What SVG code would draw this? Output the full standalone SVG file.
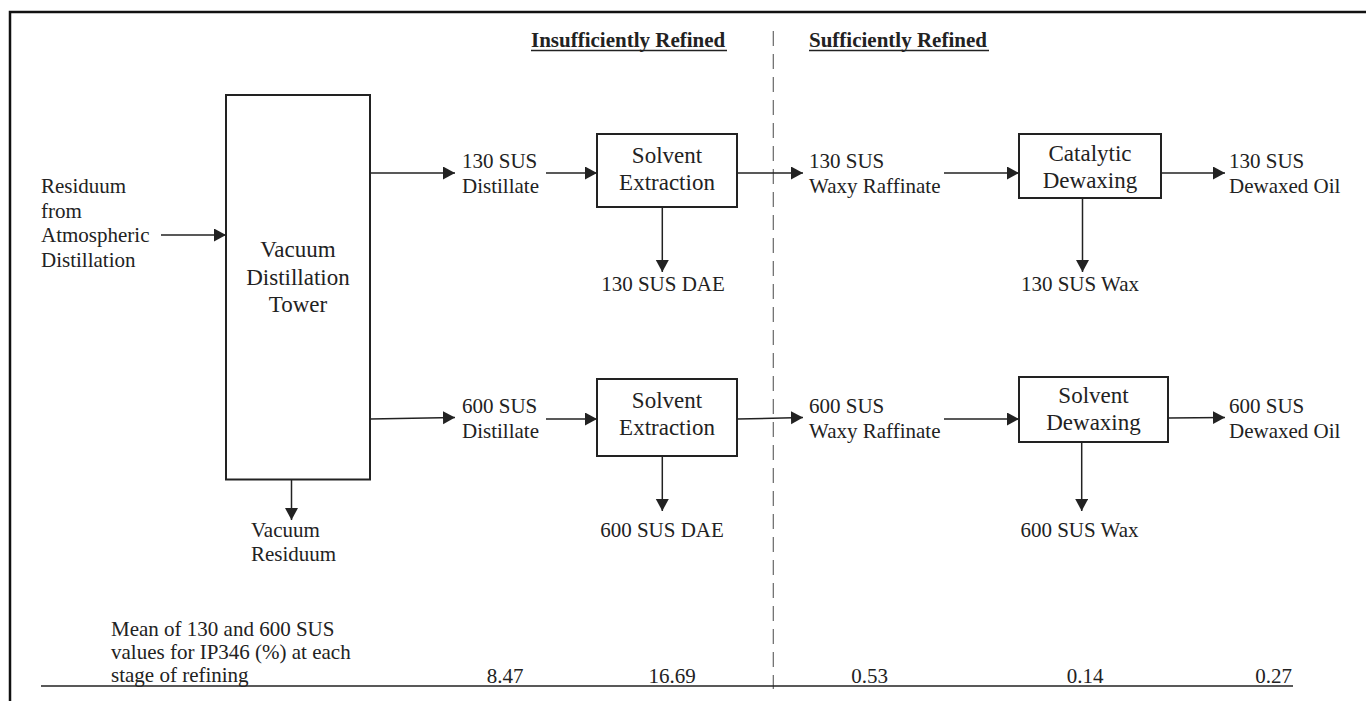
<svg xmlns="http://www.w3.org/2000/svg" width="1366" height="701" viewBox="0 0 1366 701">
  <defs>
    <marker id="arrow" markerUnits="userSpaceOnUse" markerWidth="13" markerHeight="14" refX="12" refY="6.5" orient="auto">
      <path d="M0,0 L12,6.5 L0,13 z" fill="#222"/>
    </marker>
    <style>
      .t { font-family: "Liberation Serif", "Times New Roman", serif; font-size: 21px; fill: #222; }
      .box-t { font-family: "Liberation Serif", "Times New Roman", serif; font-size: 23px; fill: #222; text-anchor: middle; }
      .hdr { font-family: "Liberation Serif", "Times New Roman", serif; font-size: 21px; font-weight: bold; fill: #222; }
      .box { fill: #fff; stroke: #222; stroke-width: 2; }
      .flow { stroke: #222; stroke-width: 1.5; fill: none; marker-end: url(#arrow); }
      .rule { stroke: #222; stroke-width: 1.5; fill: none; }
      .mid { text-anchor: middle; }
    </style>
  </defs>

  <rect width="1366" height="701" fill="#fff"/>

  <!-- frame (top and left edges) -->
  <path d="M10,701 V12 H1366" fill="none" stroke="#111" stroke-width="2.5"/>

  <!-- section headings -->
  <g id="headings">
    <text class="hdr" x="531" y="47">Insufficiently Refined</text>
    <line x1="531" y1="50.5" x2="727" y2="50.5" stroke="#222" stroke-width="1.6"/>
    <text class="hdr" x="809" y="47">Sufficiently Refined</text>
    <line x1="809" y1="50.5" x2="989" y2="50.5" stroke="#222" stroke-width="1.6"/>
  </g>

  <!-- boundary between refining grades -->
  <line id="divider" x1="773.3" y1="31" x2="773.3" y2="689" stroke="#666" stroke-width="1.2" stroke-dasharray="15 8"/>

  <!-- connectors -->
  <g id="connectors">
    <line class="flow" x1="161" y1="235" x2="226" y2="235"/>
    <line class="flow" x1="370" y1="173" x2="455" y2="173"/>
    <line class="flow" x1="370" y1="419" x2="455" y2="417.5"/>
    <line class="flow" x1="291.5" y1="480" x2="291.5" y2="520"/>
    <line class="flow" x1="546" y1="173" x2="597" y2="173"/>
    <line class="flow" x1="546" y1="419" x2="597" y2="419"/>
    <line class="flow" x1="737" y1="173" x2="803" y2="173"/>
    <line class="flow" x1="737" y1="419" x2="803" y2="417.5"/>
    <line class="flow" x1="662.3" y1="207" x2="662.3" y2="272"/>
    <line class="flow" x1="662.3" y1="456" x2="662.3" y2="511"/>
    <line class="flow" x1="944" y1="173" x2="1019" y2="173"/>
    <line class="flow" x1="944" y1="419" x2="1019" y2="419"/>
    <line class="flow" x1="1161" y1="173" x2="1225" y2="173"/>
    <line class="flow" x1="1168" y1="418" x2="1225" y2="417.5"/>
    <line class="flow" x1="1082.5" y1="198" x2="1082.5" y2="272"/>
    <line class="flow" x1="1081.7" y1="442" x2="1081.7" y2="511"/>
  </g>

  <!-- feed -->
  <g id="feed">
    <text class="t" x="41" y="193">Residuum</text>
    <text class="t" x="41" y="218">from</text>
    <text class="t" x="41" y="242">Atmospheric</text>
    <text class="t" x="41" y="267">Distillation</text>
  </g>

  <!-- vacuum distillation tower -->
  <g id="tower">
    <rect class="box" x="226" y="95" width="144" height="384.5"/>
    <text class="box-t" x="298" y="257">Vacuum</text>
    <text class="box-t" x="298" y="284.5">Distillation</text>
    <text class="box-t" x="298" y="312">Tower</text>
  </g>

  <g id="vacuum-residuum">
    <text class="t" x="251" y="537">Vacuum</text>
    <text class="t" x="251" y="561">Residuum</text>
  </g>

  <g id="distillate-130">
    <text class="t" x="462" y="168">130 SUS</text>
    <text class="t" x="462" y="193">Distillate</text>
  </g>
  <g id="distillate-600">
    <text class="t" x="462" y="413">600 SUS</text>
    <text class="t" x="462" y="438">Distillate</text>
  </g>

  <g id="extraction-130">
    <rect class="box" x="597" y="134" width="140" height="73"/>
    <text class="box-t" x="667" y="163">Solvent</text>
    <text class="box-t" x="667" y="190">Extraction</text>
  </g>
  <g id="extraction-600">
    <rect class="box" x="597" y="379" width="140" height="77"/>
    <text class="box-t" x="667" y="408">Solvent</text>
    <text class="box-t" x="667" y="435">Extraction</text>
  </g>

  <g id="dae-130"><text class="t mid" x="663" y="291">130 SUS DAE</text></g>
  <g id="dae-600"><text class="t mid" x="662" y="537">600 SUS DAE</text></g>

  <g id="raffinate-130">
    <text class="t" x="809" y="168">130 SUS</text>
    <text class="t" x="809" y="193">Waxy Raffinate</text>
  </g>
  <g id="raffinate-600">
    <text class="t" x="809" y="413">600 SUS</text>
    <text class="t" x="809" y="438">Waxy Raffinate</text>
  </g>

  <g id="catalytic-dewaxing">
    <rect class="box" x="1019" y="134" width="142" height="64"/>
    <text class="box-t" x="1090" y="161">Catalytic</text>
    <text class="box-t" x="1090" y="188">Dewaxing</text>
  </g>
  <g id="solvent-dewaxing">
    <rect class="box" x="1019" y="377" width="149" height="65"/>
    <text class="box-t" x="1093.5" y="403">Solvent</text>
    <text class="box-t" x="1093.5" y="430">Dewaxing</text>
  </g>

  <g id="wax-130"><text class="t mid" x="1080" y="291">130 SUS Wax</text></g>
  <g id="wax-600"><text class="t mid" x="1079.5" y="537">600 SUS Wax</text></g>

  <g id="dewaxed-130">
    <text class="t" x="1229" y="168">130 SUS</text>
    <text class="t" x="1229" y="193">Dewaxed Oil</text>
  </g>
  <g id="dewaxed-600">
    <text class="t" x="1229" y="413">600 SUS</text>
    <text class="t" x="1229" y="438">Dewaxed Oil</text>
  </g>

  <!-- IP346 summary row -->
  <g id="ip346-row">
    <text class="t" x="111" y="636">Mean of 130 and 600 SUS</text>
    <text class="t" x="111" y="659">values for IP346 (%) at each</text>
    <text class="t" x="111" y="682">stage of refining</text>
    <text class="t mid" x="505" y="683">8.47</text>
    <text class="t mid" x="672" y="683">16.69</text>
    <text class="t mid" x="869.5" y="683">0.53</text>
    <text class="t mid" x="1085" y="683">0.14</text>
    <text class="t mid" x="1273.5" y="683">0.27</text>
    <line class="rule" x1="41" y1="686" x2="1293" y2="686"/>
  </g>
</svg>
